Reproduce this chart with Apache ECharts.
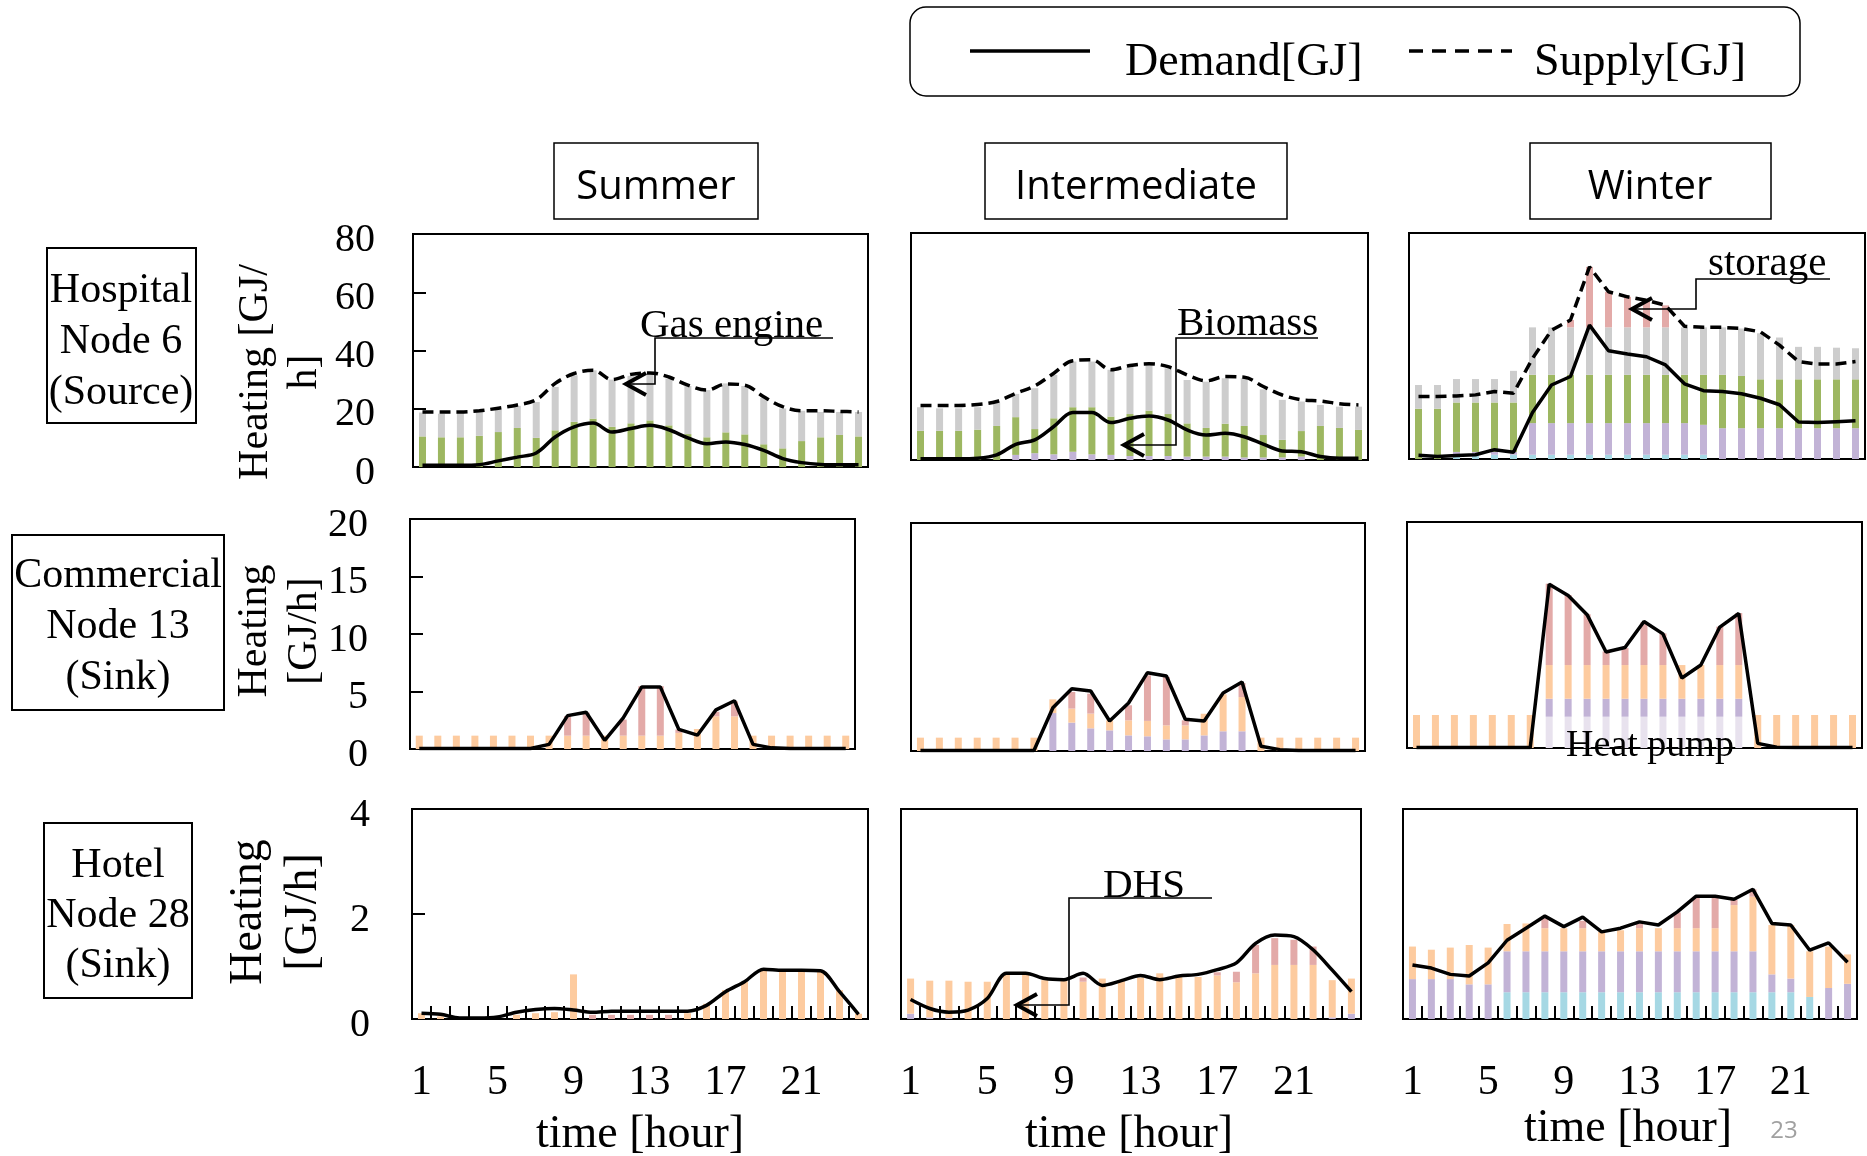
<!DOCTYPE html>
<html>
<head>
<meta charset="utf-8">
<script src="https://cdn.jsdelivr.net/npm/echarts@6/dist/echarts.min.js"></script>
<style>
  html, body { margin: 0; padding: 0; background: #ffffff; }
  #chart { width: 1867px; height: 1156px; }
</style>
</head>
<body>
<div id="chart"></div>
<script>
// ---- categories and tick labels ----
const hours = ['1','2','3','4','5','6','7','8','9','10','11','12','13','14','15','16','17','18','19','20','21','22','23','24'];
const hourTickLabels = ['1','5','9','13','17','21'];
const hospitalTicks = [0, 20, 40, 60, 80];
const commercialTicks = [0, 5, 10, 15, 20];
const hotelTicks = [0, 2, 4];

// ---- Hospital, node 6 (source) [GJ/h] ----
const hospSummerBiomass   = [10.5,10.2,10.2,10.7,12.0,13.4,10.0,12.6,15.5,16.6,13.8,15.0,16.0,14.3,11.3,10.2,11.9,11.2,7.8,6.4,8.9,10.2,11.0,10.5];
const hospSummerGasEngine = [8.2,8.1,8.4,8.2,7.8,7.6,12.3,14.9,16.0,16.6,16.2,16.3,16.1,16.1,16.5,16.2,16.8,16.6,16.0,13.7,10.4,8.7,7.9,8.4];
const hospSummerDemand    = [0.6,0.6,0.6,0.8,2.1,3.4,4.8,10.3,13.8,15.1,12.0,13.2,14.3,12.8,10.0,8.0,8.6,7.7,5.7,2.9,1.5,0.9,0.8,0.8];
const hospSummerSupply    = [18.9,18.9,18.9,19.3,20.2,21.3,23.1,28.7,32.1,33.2,30.0,31.8,32.3,30.9,28.1,26.4,28.5,28.1,24.1,20.7,19.3,19.3,19.1,18.9];

const hospInterLavender   = [0,0,0,0,0,1.8,2.4,2.0,2.9,2.0,1.8,1.4,1.4,1.4,1.2,1.2,1.2,0.9,0.9,0.9,1.2,0,0,0];
const hospInterBiomass    = [10.3,10.3,10.3,10.7,12.0,13.3,8.5,12.7,15.7,16.6,13.5,14.8,16.0,14.8,11.7,10.1,11.6,11.1,7.9,6.2,9.0,12.0,11.3,10.6];
const hospInterGasEngine  = [8.3,7.9,7.9,7.9,8.2,8.2,14.4,15.3,16.1,16.1,16.5,16.7,16.1,16.1,15.3,16.3,16.0,16.8,16.1,14.1,10.4,7.4,7.5,8.2];
const hospInterDemand     = [0.4,0.4,0.4,0.6,1.8,5.5,7.1,11.8,16.7,16.7,13.2,14.7,15.5,14.1,10.6,8.8,9.4,8.2,5.6,3.2,2.9,1.2,0.6,0.6];
const hospInterSupply     = [19.2,19.2,19.2,19.6,20.6,23.5,26.1,30.6,35.0,35.3,31.8,33.3,33.9,32.9,30.0,27.9,29.4,29.2,25.9,22.9,21.2,20.8,19.8,19.4];

const hospWinterCyan      = [0,0,1.0,1.2,1.5,1.5,1.5,1.5,1.5,1.5,1.5,1.5,1.5,1.5,1.5,1.5,0,0,0,0,0,0,0,0];
const hospWinterLavender  = [0,0,1.5,1.3,1.0,1.0,11.2,11.2,11.2,11.2,11.2,11.2,11.2,11.2,11.2,10.6,10.9,10.9,10.9,10.9,10.9,10.9,10.9,10.9];
const hospWinterBiomass   = [17.8,17.8,17.5,17.5,17.5,17.5,17.1,17.1,17.1,17.1,17.1,17.1,17.1,17.1,17.1,17.7,18.9,18.5,17.3,17.3,17.3,17.3,17.3,17.3];
const hospWinterGasEngine = [8.4,8.4,8.3,8.3,8.3,11.2,16.8,16.8,16.8,16.8,16.8,16.8,16.8,16.8,16.8,16.8,16.8,16.8,16.3,14.8,11.5,11.5,11.2,11.0];
const hospWinterStorage   = [0,0,0,0,0,0,0,0,2.6,21.4,12.6,10.8,9.6,7.8,0,0,0,0,0,0,0,0,0,0];
const hospWinterDemand    = [1.3,0.9,1.2,1.5,3.3,2.4,16.5,26.2,29.2,47.4,38.3,37.2,36.2,33.3,26.6,24.2,23.9,23.1,21.5,19.2,13.1,12.9,13.2,13.5];
const hospWinterSupply    = [22.1,22.1,22.3,22.7,23.9,23.3,35.6,45.6,49.2,68.0,59.2,57.4,56.2,54.4,47.0,46.6,46.6,46.2,45.0,40.3,34.5,33.6,33.6,34.5];

// ---- Commercial, node 13 (sink) [GJ/h] ----
const commSummerDHS       = [1.16,1.16,1.16,1.16,1.16,1.16,1.16,1.16,1.16,1.16,1.16,1.16,1.16,1.16,1.4,1.74,2.84,2.84,1.16,1.16,1.16,1.16,1.16,1.16];
const commSummerStorage   = [0,0,0,0,0,0,0,0,1.7,2.0,0,1.4,4.3,4.3,0.3,0,0.4,1.3,0,0,0,0,0,0];
const commSummerDemand    = [0.05,0.05,0.05,0.05,0.05,0.05,0.05,0.4,2.9,3.2,0.75,2.7,5.4,5.4,1.7,1.2,3.4,4.2,0.4,0.1,0.05,0.05,0.05,0.05];

const commInterLavender   = [0,0,0,0,0,0,0,3.33,2.49,1.99,1.81,1.37,1.29,1.02,1.02,1.37,1.73,1.73,0,0,0,0,0,0];
const commInterDHS        = [1.17,1.17,1.17,1.17,1.17,1.17,1.17,1.2,1.23,1.29,0.88,1.32,1.35,1.23,1.23,1.9,3.25,3.0,1.17,1.17,1.17,1.17,1.17,1.17];
const commInterStorage    = [0,0,0,0,0,0,0,0,1.46,1.75,0,1.32,4.0,4.24,0.44,0,0,1.23,0,0,0,0,0,0];
const commInterDemand     = [0.05,0.05,0.05,0.05,0.05,0.05,0.05,3.8,5.47,5.26,2.63,4.21,6.87,6.58,2.78,2.63,5.09,6.05,0.41,0.12,0.05,0.05,0.05,0.05];

const commWinterHeatPump  = [0,0,0,0,0,0,0,2.77,2.77,2.77,2.77,2.77,2.77,2.77,2.77,2.77,2.77,2.77,0,0,0,0,0,0];
const commWinterLavender  = [0,0,0,0,0,0,0,1.59,1.59,1.59,1.59,1.59,1.59,1.59,1.59,1.59,1.59,1.59,0,0,0,0,0,0];
const commWinterDHS       = [2.92,2.92,2.92,2.92,2.92,2.92,2.92,2.98,2.98,2.98,2.98,2.98,2.98,2.98,2.98,2.98,2.98,2.98,2.92,2.92,2.92,2.92,2.92,2.92];
const commWinterStorage   = [0,0,0,0,0,0,0,7.2,6.2,4.5,1.2,1.5,3.8,2.8,0,0,3.4,4.6,0,0,0,0,0,0];
const commWinterDemand    = [0.05,0.05,0.05,0.05,0.05,0.05,0.05,14.5,13.5,11.8,8.5,8.9,11.2,10.1,6.2,7.35,10.7,11.9,0.41,0.06,0.05,0.05,0.05,0.05];

// ---- Hotel, node 28 (sink) [GJ/h] ----
const hotelSummerDHS      = [0.11,0.05,0,0,0,0.08,0.11,0.13,0.85,0,0,0,0,0,0.11,0.29,0.55,0.71,0.93,0.9,0.9,0.9,0.55,0.1];
const hotelSummerStorage  = [0,0,0,0,0,0,0,0,0,0.08,0.08,0.08,0.08,0.08,0,0,0,0,0,0,0,0,0,0];
const hotelSummerDemand   = [0.11,0.09,0.02,0.02,0.04,0.13,0.18,0.2,0.17,0.13,0.15,0.15,0.15,0.15,0.15,0.26,0.52,0.71,0.95,0.93,0.93,0.92,0.52,0.09];

const hotelInterLavender  = [0.1,0.03,0.02,0,0,0,0,0,0,0,0,0,0,0,0,0,0,0,0,0,0,0,0.03,0.1];
const hotelInterDHS       = [0.67,0.7,0.71,0.71,0.71,0.88,0.88,0.74,0.73,0.71,0.77,0.74,0.79,0.87,0.83,0.8,0.83,0.7,0.87,1.03,1.03,1.03,0.71,0.67];
const hotelInterStorage   = [0,0,0,0,0,0,0,0,0,0.08,0,0,0,0,0,0,0.06,0.2,0.54,0.51,0.48,0.35,0,0];
const hotelInterDemand    = [0.37,0.2,0.13,0.17,0.39,0.87,0.87,0.77,0.75,0.87,0.64,0.73,0.83,0.75,0.82,0.85,0.94,1.07,1.44,1.6,1.57,1.32,0.93,0.52];

const hotelWinterCyan     = [0,0,0,0,0,0.51,0.51,0.51,0.51,0.51,0.51,0.51,0.51,0.51,0.51,0.51,0.51,0.51,0.51,0.51,0.51,0.42,0,0];
const hotelWinterLavender = [0.76,0.76,0.76,0.66,0.66,0.78,0.78,0.78,0.78,0.78,0.78,0.78,0.78,0.78,0.78,0.78,0.78,0.78,0.78,0.34,0.26,0,0.59,0.67];
const hotelWinterDHS      = [0.62,0.56,0.6,0.75,0.7,0.52,0.53,0.44,0.44,0.44,0.37,0.4,0.44,0.44,0.44,0.44,0.44,0.88,1.04,0.94,1.02,0.87,0.79,0.56];
const hotelWinterStorage  = [0,0,0,0,0,0,0,0.19,0,0.14,0,0,0.09,0,0.3,0.6,0.6,0.1,0.14,0,0,0,0,0];
const hotelWinterDemand   = [1.03,0.97,0.85,0.82,1.07,1.5,1.73,1.96,1.76,1.94,1.66,1.73,1.85,1.79,2.04,2.34,2.34,2.28,2.47,1.82,1.79,1.31,1.45,1.08];

// ---- styling ----
const SERIF = '"Liberation Serif", "Times New Roman", serif';
const SANS = '"Open Sans", "Noto Sans", sans-serif';
const COLOR = {
  cyan: '#a6d8e4', lavender: '#c2b3d6', biomass: '#9db761', gas: '#cdcdcd',
  storage: '#e3aaa8', dhs: '#fdcb9f', heatpump: '#e8e2ee'
};

// plot areas: [left, top, width, height]
const gridBoxes = [
  [413, 234, 455, 233], [911, 233, 457, 227], [1409, 233, 456, 226],
  [410, 519, 445, 230], [911, 523, 454, 228], [1407, 522, 455, 226],
  [412, 809, 456, 210], [901, 809, 460, 210], [1403, 809, 454, 210]
];

const rowTicks = [hospitalTicks, commercialTicks, hotelTicks];

const panels = [
  { bars: [['Biomass', hospSummerBiomass, 'biomass'], ['Gas engine', hospSummerGasEngine, 'gas']],
    demand: hospSummerDemand, supply: hospSummerSupply, smooth: 0.35 },
  { bars: [['Lavender', hospInterLavender, 'lavender'], ['Biomass', hospInterBiomass, 'biomass'], ['Gas engine', hospInterGasEngine, 'gas']],
    demand: hospInterDemand, supply: hospInterSupply, smooth: 0.35 },
  { bars: [['Cyan', hospWinterCyan, 'cyan'], ['Lavender', hospWinterLavender, 'lavender'], ['Biomass', hospWinterBiomass, 'biomass'],
           ['Gas engine', hospWinterGasEngine, 'gas'], ['storage', hospWinterStorage, 'storage']],
    demand: hospWinterDemand, supply: hospWinterSupply, smooth: 0 },
  { bars: [['DHS', commSummerDHS, 'dhs'], ['storage', commSummerStorage, 'storage']],
    demand: commSummerDemand, smooth: 0 },
  { bars: [['Lavender', commInterLavender, 'lavender'], ['DHS', commInterDHS, 'dhs'], ['storage', commInterStorage, 'storage']],
    demand: commInterDemand, smooth: 0 },
  { bars: [['Heat pump', commWinterHeatPump, 'heatpump'], ['Lavender', commWinterLavender, 'lavender'],
           ['DHS', commWinterDHS, 'dhs'], ['storage', commWinterStorage, 'storage']],
    demand: commWinterDemand, smooth: 0 },
  { bars: [['DHS', hotelSummerDHS, 'dhs'], ['storage', hotelSummerStorage, 'storage']],
    demand: hotelSummerDemand, smooth: 0.3 },
  { bars: [['Lavender', hotelInterLavender, 'lavender'], ['DHS', hotelInterDHS, 'dhs'], ['storage', hotelInterStorage, 'storage']],
    demand: hotelInterDemand, smooth: 0.3 },
  { bars: [['Cyan', hotelWinterCyan, 'cyan'], ['Lavender', hotelWinterLavender, 'lavender'],
           ['DHS', hotelWinterDHS, 'dhs'], ['storage', hotelWinterStorage, 'storage']],
    demand: hotelWinterDemand, smooth: 0 }
];

const grid = [], xAxis = [], yAxis = [], series = [];

panels.forEach((p, i) => {
  const row = Math.floor(i / 3), col = i % 3;
  const [l, t, w, h] = gridBoxes[i];
  const ticks = rowTicks[row];
  grid.push({ left: l, top: t, width: w, height: h, show: true,
              borderColor: '#000', borderWidth: 2, backgroundColor: 'transparent', containLabel: false });

  const bottomRow = row === 2;
  xAxis.push({
    type: 'category', gridIndex: i, data: hours, boundaryGap: true,
    show: bottomRow,
    axisLine: { show: false },
    axisTick: { show: bottomRow, inside: true, length: 13, interval: 0, lineStyle: { color: '#000', width: 2 } },
    axisLabel: { show: bottomRow, interval: (idx, val) => hourTickLabels.includes(val),
                 fontFamily: SERIF, fontSize: 42, color: '#000', margin: 43 }
  });

  const firstCol = col === 0;
  yAxis.push({
    type: 'value', gridIndex: i, min: ticks[0], max: ticks[ticks.length - 1],
    interval: ticks[1] - ticks[0],
    show: firstCol,
    splitLine: { show: false },
    axisLine: { show: false },
    axisTick: { show: firstCol, inside: true, length: 13, lineStyle: { color: '#000', width: 2 } },
    axisLabel: { show: firstCol, fontFamily: SERIF, fontSize: 40, color: '#000',
                 margin: 38 + (row > 0 ? 4 : 0), verticalAlign: 'top', lineHeight: 12 }
  });

  p.bars.forEach(([name, data, key]) => {
    series.push({
      type: 'bar', name, xAxisIndex: i, yAxisIndex: i, stack: 'panel' + i,
      data, barWidth: 7, itemStyle: { color: COLOR[key] }, silent: true, z: 2
    });
  });
  series.push({
    type: 'line', name: 'Demand[GJ]', xAxisIndex: i, yAxisIndex: i, data: p.demand,
    symbol: 'none', smooth: p.smooth || false,
    lineStyle: { color: '#000', width: 3.5 }, z: 6, silent: true
  });
  if (p.supply) {
    series.push({
      type: 'line', name: 'Supply[GJ]', xAxisIndex: i, yAxisIndex: i, data: p.supply,
      symbol: 'none', smooth: p.smooth || false,
      lineStyle: { color: '#000', width: 3.5, type: [11, 6] }, z: 5, silent: true
    });
  }
});

// ---- decorations: legend, titles, row labels, axis names, callouts ----
function text(x, y, str, size, family, extra) {
  return Object.assign({
    type: 'text', x, y, z: 20,
    style: Object.assign({ text: str, fontSize: size, fontFamily: family, fill: '#000',
                           align: 'center', verticalAlign: 'middle' }, (extra && extra.style) || {})
  }, extra ? { rotation: extra.rotation || 0 } : {});
}
function box(x, y, w, h, lw, r) {
  return { type: 'rect', z: 20, shape: { x, y, width: w, height: h, r: r || 0 },
           style: { fill: 'transparent', stroke: '#000', lineWidth: lw } };
}
function poly(points, lw) {
  return { type: 'polyline', z: 21, shape: { points }, style: { stroke: '#000', lineWidth: lw, fill: null } };
}
function callout(label, tx, ty, underline, tip, size) {
  // underline: [xStart, xEnd, y]; tip: [x, y] of arrow head
  const [u0, u1, uy] = underline;
  const [ax, ay] = tip;
  return [
    text(tx, ty, label, size, SERIF, { style: { align: 'left' } }),
    poly([[u1, uy], [u0, uy], [u0, ay], [ax, ay]], 1.6),
    poly([[ax + 20, ay - 11], [ax, ay], [ax + 20, ay + 11]], 4)
  ];
}

const graphics = [
  // legend
  box(910, 7, 890, 89, 1.5, 16),
  poly([[970, 51], [1090, 51]], 3.5),
  text(1125, 63, 'Demand[GJ]', 46, SERIF, { style: { align: 'left' } }),
  { type: 'line', z: 21, shape: { x1: 1409, y1: 51, x2: 1512, y2: 51 },
    style: { stroke: '#000', lineWidth: 3.5, lineDash: [14, 9] } },
  text(1534, 63, 'Supply[GJ]', 46, SERIF, { style: { align: 'left' } }),

  // season titles
  box(554, 143, 204, 76, 1.5), text(656, 188, 'Summer', 40, SANS),
  box(985, 143, 302, 76, 1.5), text(1136, 188, 'Intermediate', 40, SANS),
  box(1530, 143, 241, 76, 1.5), text(1650, 188, 'Winter', 40, SANS),

  // building labels
  box(47, 248, 149, 175, 2), text(121, 342, 'Hospital\nNode 6\n(Source)', 42, SERIF, { style: { lineHeight: 51 } }),
  box(12, 535, 212, 175, 2), text(118, 627, 'Commercial\nNode 13\n(Sink)', 42, SERIF, { style: { lineHeight: 51 } }),
  box(44, 823, 148, 175, 2), text(118, 916, 'Hotel\nNode 28\n(Sink)', 42, SERIF, { style: { lineHeight: 50 } }),

  // y axis names
  text(280, 372, 'Heating [GJ/\nh]', 42, SERIF, { rotation: Math.PI / 2, style: { lineHeight: 49 } }),
  text(280, 631, 'Heating\n[GJ/h]', 42, SERIF, { rotation: Math.PI / 2, style: { lineHeight: 50 } }),
  text(276, 912, 'Heating\n[GJ/h]', 46, SERIF, { rotation: Math.PI / 2, style: { lineHeight: 55 } }),

  // x axis names
  text(640, 1135, 'time [hour]', 46, SERIF),
  text(1129, 1135, 'time [hour]', 46, SERIF),
  text(1628, 1129, 'time [hour]', 46, SERIF),

  // heat pump label
  text(1650, 746, 'Heat pump', 38, SERIF),

  // page number
  text(1784, 1131, '23', 24, SANS, { style: { fill: '#a0a0a0' } })
].concat(
  callout('Gas engine', 640, 326, [655, 833, 338], [626, 384], 41),
  callout('Biomass', 1177, 324, [1176, 1318, 338], [1124, 445], 41),
  callout('storage', 1708, 264, [1696, 1830, 279], [1632, 309], 41),
  callout('DHS', 1103, 886, [1069, 1212, 898], [1017, 1005], 41)
);

const chart = echarts.init(document.getElementById('chart'), null, { renderer: 'canvas' });
chart.setOption({
  animation: false,
  backgroundColor: '#ffffff',
  grid, xAxis, yAxis, series,
  graphic: { elements: graphics }
});
</script>
</body>
</html>
